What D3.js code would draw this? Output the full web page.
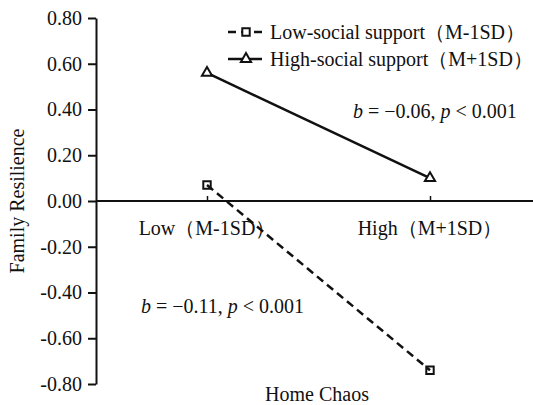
<!DOCTYPE html>
<html>
<head>
<meta charset="utf-8">
<script src="https://cdn.jsdelivr.net/npm/d3@7/dist/d3.min.js"></script>
<style>
  html, body { margin: 0; padding: 0; background: #fff; }
  svg text { font-family: "Liberation Serif", "Times New Roman", serif; fill: #111; }
</style>
</head>
<body>
<svg id="chart" width="533" height="405"></svg>
<script>
const categories = ["Low（M-1SD）", "High（M+1SD）"];
const lowSupport = [0.07, -0.74];
const highSupport = [0.56, 0.10];
const seriesNames = ["Low-social support（M-1SD）", "High-social support（M+1SD）"];
const yTicks = [0.8, 0.6, 0.4, 0.2, 0, -0.2, -0.4, -0.6, -0.8];
const xTitle = "Home Chaos";
const yTitle = "Family Resilience";
const annotHigh = { b: "−0.06", p: "0.001" };
const annotLow = { b: "−0.11", p: "0.001" };

const svg = d3.select("#chart");
const x = d3.scalePoint().domain(categories).range([207, 430]);
const y = d3.scaleLinear().domain([-0.8, 0.8]).range([384, 18]);
const fmt = v => d3.format(".2f")(v).replace("−", "-");

// Y axis
const yAxis = svg.append("g").attr("transform", "translate(96,0)")
  .call(d3.axisLeft(y).tickValues(yTicks).tickFormat(fmt).tickSize(8).tickSizeOuter(0).tickPadding(6));
yAxis.select(".domain").attr("stroke", "#111").attr("stroke-width", 2);
yAxis.selectAll(".tick line").attr("stroke", "#111").attr("stroke-width", 2);
yAxis.selectAll(".tick text").style("font-size", "20px").attr("fill", "#111");

// X axis at y=0
const xAxis = svg.append("g").attr("transform", `translate(0,${y(0)})`)
  .call(d3.axisTop(x).tickSize(5).tickSizeOuter(0).tickFormat(""));
xAxis.select(".domain").remove();
xAxis.selectAll(".tick line").attr("stroke", "#111").attr("stroke-width", 1.5);
svg.append("line").attr("x1", 96).attr("x2", 533).attr("y1", y(0)).attr("y2", y(0))
  .attr("stroke", "#111").attr("stroke-width", 2);
svg.append("g").selectAll("text").data(categories).join("text")
  .attr("x", d => x(d)).attr("y", y(0) + 34)
  .attr("text-anchor", "middle").style("font-size", "20px").text(d => d);

// titles
svg.append("text").attr("x", 317).attr("y", 401).attr("text-anchor", "middle")
  .style("font-size", "20px").text(xTitle);
svg.append("text").attr("transform", "translate(24,201) rotate(-90)")
  .attr("text-anchor", "middle").style("font-size", "20px").text(yTitle);

// lines
const line = d3.line().x((d, i) => x(categories[i])).y(d => y(d));
svg.append("path").datum(lowSupport).attr("d", line)
  .attr("fill", "none").attr("stroke", "#111").attr("stroke-width", 2.5).attr("stroke-dasharray", "8,5");
svg.append("path").datum(highSupport).attr("d", line)
  .attr("fill", "none").attr("stroke", "#111").attr("stroke-width", 2.5);

const sq = d3.symbol().type(d3.symbolSquare).size(55);
const tri = d3.symbol().type(d3.symbolTriangle).size(45);
svg.append("g").selectAll("path").data(lowSupport).join("path")
  .attr("transform", (d, i) => `translate(${x(categories[i])},${y(d)})`)
  .attr("d", sq).attr("fill", "none").attr("stroke", "#111").attr("stroke-width", 2);
svg.append("g").selectAll("path").data(highSupport).join("path")
  .attr("transform", (d, i) => `translate(${x(categories[i])},${y(d)})`)
  .attr("d", tri).attr("fill", "#fff").attr("stroke", "#111").attr("stroke-width", 2);

// legend
const leg = svg.append("g");
const rows = [{ y: 32, dash: "8,5", sym: sq, name: seriesNames[0] },
              { y: 59, dash: null, sym: tri, name: seriesNames[1] }];
rows.forEach(r => {
  leg.append("line").attr("x1", 228).attr("x2", 262).attr("y1", r.y).attr("y2", r.y)
    .attr("stroke", "#111").attr("stroke-width", 2.5).attr("stroke-dasharray", r.dash);
  leg.append("path").attr("transform", `translate(246,${r.y})`).attr("d", r.sym)
    .attr("fill", "#fff").attr("stroke", "#111").attr("stroke-width", 2);
  leg.append("text").attr("x", 270).attr("y", r.y + 7).style("font-size", "20px").text(r.name);
});

// annotations
function annot(a, xx, yy) {
  const t = svg.append("text").attr("x", xx).attr("y", yy).style("font-size", "20px");
  t.append("tspan").style("font-style", "italic").text("b");
  t.append("tspan").text(" = " + a.b + ", ");
  t.append("tspan").style("font-style", "italic").text("p");
  t.append("tspan").text(" < " + a.p);
}
annot(annotHigh, 353, 118);
annot(annotLow, 141, 313);
</script>
</body>
</html>
